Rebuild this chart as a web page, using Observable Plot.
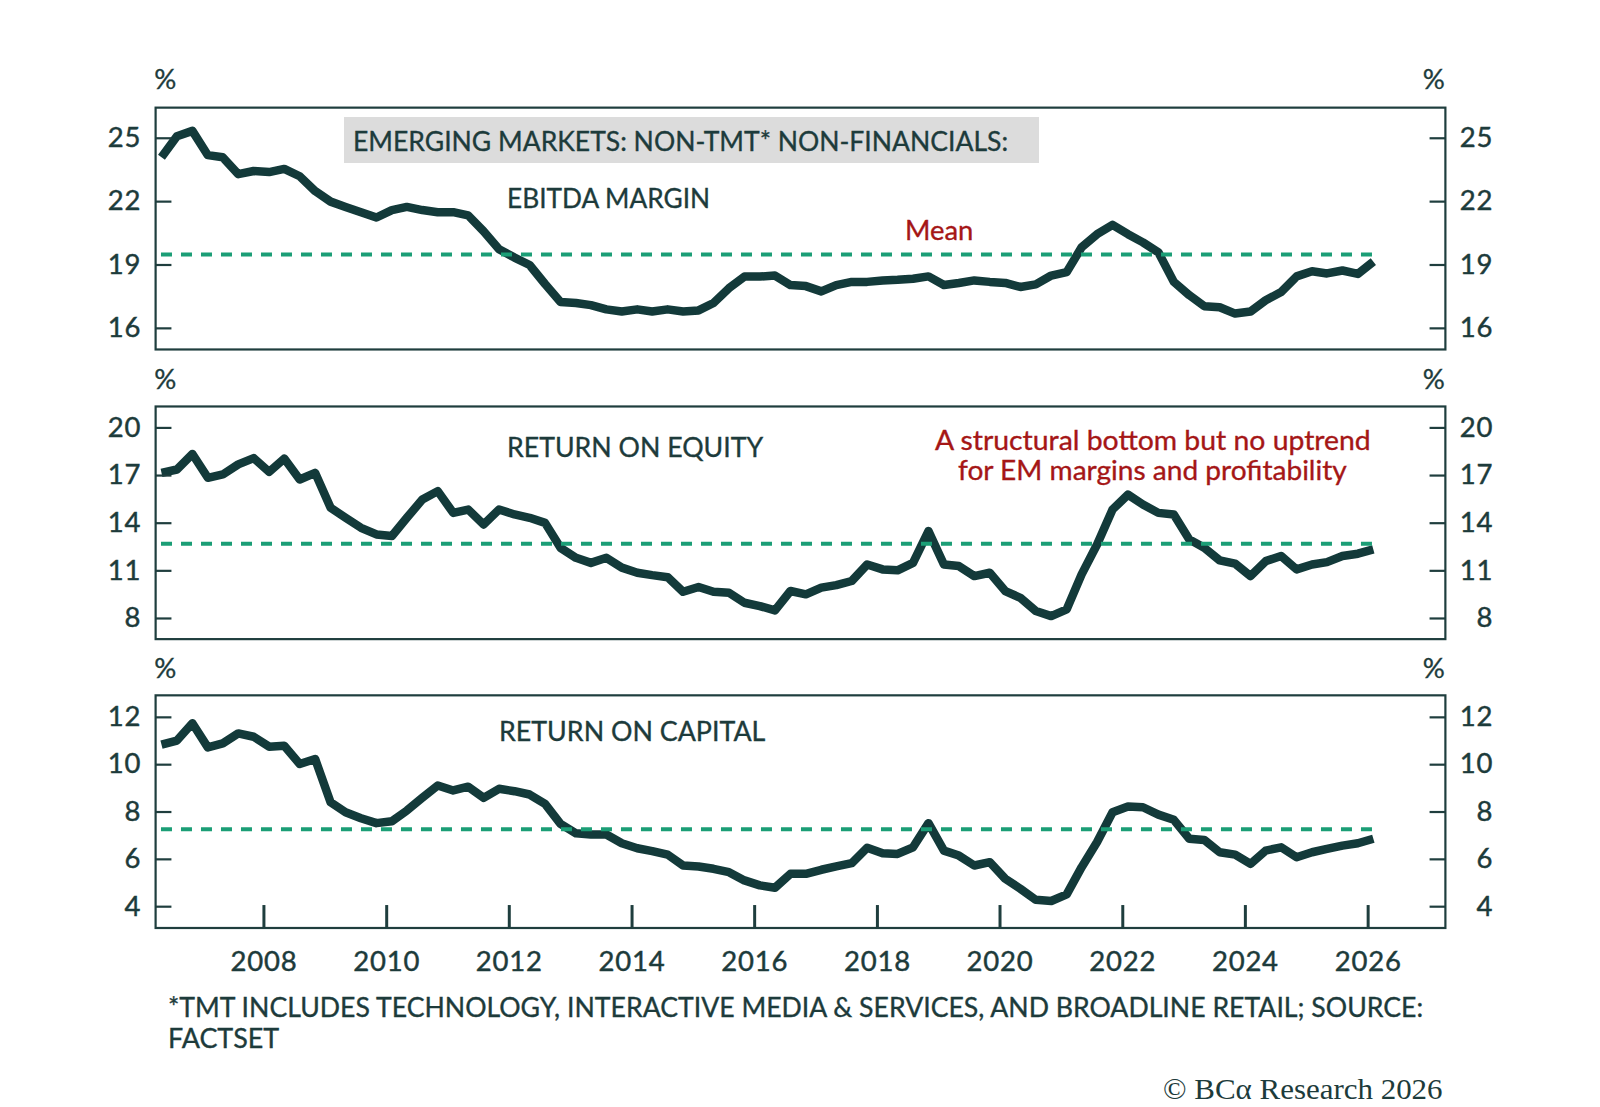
<!DOCTYPE html>
<html><head><meta charset="utf-8">
<script src="https://cdn.jsdelivr.net/npm/d3@7"></script>
<script src="https://cdn.jsdelivr.net/npm/@observablehq/plot@0.6"></script>
<style>
html,body{margin:0;padding:0;background:#fff}
body{width:1600px;height:1107px;position:relative;overflow:hidden;font-family:Lato,"Open Sans",sans-serif;color:#1d3b3b}
.abs{position:absolute;white-space:nowrap;display:inline-block;-webkit-text-stroke:0.35px currentColor}
.panel{position:absolute;left:0}
.panel svg text{letter-spacing:0.8px;stroke:#1d3b3b;stroke-width:0.45px}
</style></head><body>
<div id="p1" class="panel"></div>
<div id="p2" class="panel"></div>
<div id="p3" class="panel"></div>
<script>
// ---- data (quarterly, May 2006 .. Feb 2026) ----
const firstMonth = "2006-05-01";
const lastMonth = "2026-03-01";
const ebitdaMargin = [24.1,25.1,25.35,24.2,24.1,23.3,23.45,23.4,23.55,23.2,
  22.5,22.0,21.75,21.5,21.25,21.6,21.75,21.6,21.5,21.5,
  21.35,20.6,19.75,19.35,19.0,18.1,17.25,17.2,17.1,16.9,
  16.8,16.9,16.8,16.9,16.8,16.85,17.2,17.9,18.45,18.45,
  18.5,18.05,18.0,17.75,18.05,18.2,18.2,18.27,18.3,18.35,
  18.46,18.05,18.15,18.27,18.2,18.15,17.96,18.08,18.5,18.66,
  19.84,20.46,20.9,20.46,20.07,19.6,18.2,17.57,17.05,17.0,
  16.7,16.8,17.33,17.72,18.46,18.7,18.6,18.74,18.58,19.16];
const returnOnEquity = [17.17,17.38,18.36,16.86,17.07,17.7,18.1,17.23,18.07,16.75,
  17.17,14.97,14.34,13.71,13.29,13.19,14.34,15.49,16.02,14.65,
  14.86,13.92,14.86,14.55,14.34,14.02,12.45,11.82,11.5,11.82,
  11.2,10.88,10.73,10.6,9.68,9.98,9.68,9.62,8.99,8.78,
  8.51,9.73,9.52,9.94,10.1,10.36,11.4,11.09,11.03,11.5,
  13.5,11.4,11.3,10.67,10.88,9.73,9.3,8.47,8.15,8.57,
  10.78,12.66,14.86,15.8,15.18,14.65,14.55,12.98,12.45,11.66,
  11.45,10.67,11.61,11.93,11.09,11.4,11.55,11.93,12.08,12.35];
const returnOnCapital = [10.85,11.02,11.75,10.73,10.9,11.32,11.18,10.76,10.8,10.03,
  10.24,8.41,7.99,7.74,7.53,7.61,8.06,8.6,9.12,8.91,
  9.07,8.6,8.98,8.88,8.74,8.34,7.5,7.1,7.05,7.05,
  6.68,6.47,6.35,6.2,5.74,5.7,5.6,5.46,5.11,4.9,
  4.8,5.39,5.39,5.56,5.7,5.84,6.49,6.26,6.23,6.51,
  7.53,6.37,6.16,5.74,5.88,5.18,4.76,4.29,4.24,4.52,
  5.67,6.73,7.99,8.23,8.2,7.89,7.67,6.87,6.82,6.3,
  6.2,5.81,6.37,6.51,6.09,6.3,6.44,6.58,6.68,6.87];
const means = [19.5, 12.7, 7.27];
const ebitdaTicks = [25, 22, 19, 16];
const roeTicks = [20, 17, 14, 11, 8];
const rocTicks = [12, 10, 8, 6, 4];
const yearTicks = [2008, 2010, 2012, 2014, 2016, 2018, 2020, 2022, 2024, 2026];
const panelTitles = ["EBITDA MARGIN", "RETURN ON EQUITY", "RETURN ON CAPITAL"];
const headerText = "EMERGING MARKETS: NON-TMT* NON-FINANCIALS:";
const meanLabel = "Mean";
const noteLines = ["A structural bottom but no uptrend", "for EM margins and profitability"];
const footLines = ["*TMT INCLUDES TECHNOLOGY, INTERACTIVE MEDIA & SERVICES, AND BROADLINE RETAIL; SOURCE:", "FACTSET"];
const copyright = "© BCα Research 2026";

// ---- styles / layout ----
const S = 1600 / 1568;
const DARK = "#133a3a", FRAME = "#1f3e3e", GREEN = "#1b9e76", RED = "#a51616", TEXT = "#1d3b3b";
const dates = d3.utcMonth.range(new Date(firstMonth), new Date(lastMonth), 3);
const xDomain = [new Date("2006-03-27"), new Date("2027-04-06")];
const TICK_FONT = 27.5;

function panel(values, yDomain, ticks, mean, {height, marginTop, marginBottom, showX}) {
  const marks = [
    Plot.lineY(values, {x: (d, i) => dates[i], y: d => d, stroke: DARK, strokeWidth: 8.5, strokeLinejoin: "round", strokeLinecap: "butt"}),
    Plot.ruleY([mean], {x1: dates[0], x2: dates[dates.length - 1], stroke: GREEN, strokeWidth: 4, strokeDasharray: "11,9"}),
    Plot.frame({stroke: FRAME, strokeWidth: 2.2}),
    Plot.axisY(ticks, {anchor: "left", tickSize: -16 * S, tickPadding: 30 * S, strokeWidth: 2.2, stroke: FRAME, fill: TEXT, fontSize: TICK_FONT}),
    Plot.axisY(ticks, {anchor: "right", tickSize: -16 * S, tickPadding: 63 * S, textAnchor: "end", strokeWidth: 2.2, stroke: FRAME, fill: TEXT, fontSize: TICK_FONT}),
  ];
  if (showX) {
    marks.push(Plot.axisX(yearTicks.map(y => new Date(Date.UTC(y, 0, 1))), {anchor: "bottom", tickSize: -22 * S, tickPadding: 46, lineAnchor: "top", tickFormat: d3.utcFormat("%Y"), strokeWidth: 3, stroke: FRAME, fill: TEXT, fontSize: TICK_FONT}));
  }
  return Plot.plot({
    width: 1600, height: height * S, marginLeft: 152 * S, marginRight: 1600 - 1416 * S, marginTop: marginTop * S, marginBottom: marginBottom * S,
    style: {fontFamily: "Lato, sans-serif", background: "transparent", color: TEXT, overflow: "visible"},
    x: {type: "utc", domain: xDomain, axis: showX ? undefined : null},
    y: {domain: yDomain, axis: null},
    marks
  });
}

const p1 = document.getElementById("p1"), p2 = document.getElementById("p2"), p3 = document.getElementById("p3");
p1.style.top = "0px"; p2.style.top = (350 * S) + "px"; p3.style.top = (640 * S) + "px";
p1.append(panel(ebitdaMargin, [15.0, 26.45], ebitdaTicks, means[0], {height: 350, marginTop: 105, marginBottom: 8, showX: false}));
p2.append(panel(returnOnEquity, [6.7, 21.35], roeTicks, means[1], {height: 290, marginTop: 48, marginBottom: 14, showX: false}));
p3.append(panel(returnOnCapital, [3.1, 12.93], rocTicks, means[2], {height: 330, marginTop: 41, marginBottom: 61, showX: true}));

// ---- text annotations (positions in reference units, scaled by S) ----
function put(text, x, cy, {w = null, align = "left", size = 27, capCenter = 0.627, css = {}} = {}) {
  const d = document.createElement("div");
  d.className = "abs";
  d.textContent = text;
  const fs = size * S;
  d.style.fontSize = fs + "px";
  d.style.lineHeight = (1.2 * fs) + "px";
  Object.assign(d.style, css);
  document.body.append(d);
  const actual = d.getBoundingClientRect().width;
  let width = actual;
  if (w) {
    width = w * S;
    d.style.transformOrigin = "0 0";
    d.style.transform = `scaleX(${width / actual})`;
  }
  let left = x * S;
  if (align === "center") left -= width / 2;
  if (align === "right") left -= width;
  d.style.left = left + "px";
  d.style.top = (cy * S - capCenter * fs) + "px";
  return d;
}
const box = document.createElement("div");
Object.assign(box.style, {position: "absolute", left: (337 * S) + "px", top: (115 * S) + "px", width: (681 * S) + "px", height: (45 * S) + "px", background: "#dcdcdc"});
document.body.append(box);

[78, 372, 655].forEach(cy => { put("%", 162, cy, {align: "center", size: 27}); put("%", 1405, cy, {align: "center", size: 27}); });
put(headerText, 346, 138, {w: 642});
put(panelTitles[0], 497, 194, {w: 199});
put(meanLabel, 887, 226, {w: 67, css: {color: RED}});
put(panelTitles[1], 497, 438, {w: 251});
put(noteLines[0], 1129.5, 431, {w: 427, align: "center", css: {color: RED}});
put(noteLines[1], 1129.5, 461, {w: 381, align: "center", css: {color: RED}});
put(panelTitles[2], 489, 717, {w: 261});
put(footLines[0], 165, 988, {w: 1230, size: 26.5});
put(footLines[1], 165, 1018, {w: 109, size: 26.5});
put(copyright, 1414, 1068, {w: 274, align: "right", size: 29, capCenter: 0.61, css: {fontFamily: "'Liberation Serif','DejaVu Serif',serif", webkitTextStroke: "0px"}});
</script>
</body></html>
